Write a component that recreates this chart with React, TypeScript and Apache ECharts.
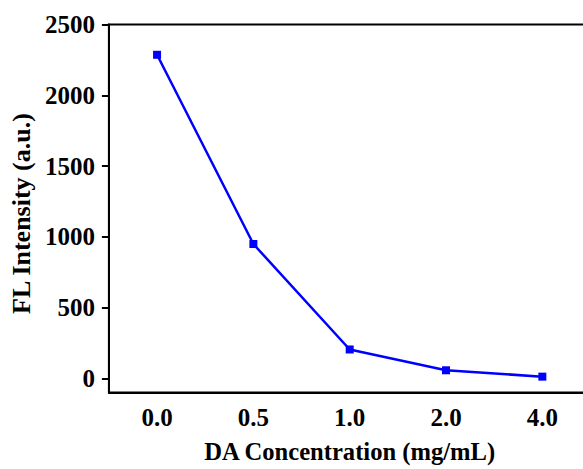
import React, { useEffect, useRef } from "react";
import * as echarts from "echarts";

const categories = ["0.0", "0.5", "1.0", "2.0", "4.0"];
const intensity = [2286, 949, 204, 57, 12];
const yTicks = [0, 500, 1000, 1500, 2000, 2500];

const FONT = "'Liberation Serif', 'Times New Roman', serif";

export default function App() {
  const ref = useRef<HTMLDivElement>(null);
  useEffect(() => {
    if (!ref.current) return;
    const chart = echarts.init(ref.current, null, { renderer: "svg" });
    chart.setOption({
      animation: false,
      backgroundColor: "#ffffff",
      grid: {
        left: 107,
        top: 24.5,
        width: 483.5,
        height: 368,
        show: true,
        borderColor: "#000",
        borderWidth: 2,
        containLabel: false,
      },
      xAxis: {
        type: "category",
        data: categories,
        boundaryGap: true,
        name: "DA Concentration (mg/mL)",
        nameLocation: "middle",
        nameGap: 46,
        nameTextStyle: { fontFamily: FONT, fontWeight: "bold", fontSize: 24.6, color: "#000" },
        axisLine: { onZero: false, lineStyle: { color: "#000", width: 2 } },
        axisTick: { alignWithLabel: true, length: 7, lineStyle: { color: "#000", width: 2 } },
        axisLabel: { fontFamily: FONT, fontWeight: "bold", fontSize: 25, color: "#000", margin: 12 },
        splitLine: { show: false },
      },
      yAxis: {
        type: "value",
        min: -100,
        max: 2500,
        name: "FL Intensity (a.u.)",
        nameLocation: "middle",
        nameGap: 71,
        nameTextStyle: {
          fontFamily: FONT,
          fontWeight: "bold",
          fontSize: 26,
          color: "#000",
          padding: [0, 10, 0, 0],
        },
        axisLine: { show: true, lineStyle: { color: "#000", width: 2 } },
        axisTick: { show: true, length: 7, customValues: yTicks, lineStyle: { color: "#000", width: 2 } },
        axisLabel: {
          fontFamily: FONT,
          fontWeight: "bold",
          fontSize: 25,
          color: "#000",
          margin: 14,
          customValues: yTicks,
          formatter: (v: number) => String(v),
        },
        splitLine: { show: false },
      },
      series: [
        {
          type: "line",
          data: intensity,
          symbol: "rect",
          symbolSize: 8,
          itemStyle: { color: "#0000ff" },
          lineStyle: { color: "#0000ff", width: 2.5 },
        },
      ],
    });
    return () => chart.dispose();
  }, []);
  return (
    <div style={{ position: "absolute", left: 0, top: 0, width: 583, height: 469, overflow: "hidden" }}>
      <div ref={ref} style={{ width: 620, height: 469 }} />
    </div>
  );
}
